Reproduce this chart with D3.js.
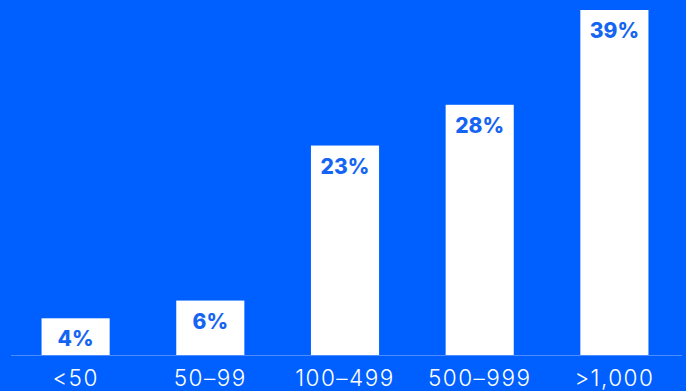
<!DOCTYPE html>
<html><head><meta charset="utf-8">
<script src="https://cdn.jsdelivr.net/npm/d3@7"></script>
<style>
html,body{margin:0;padding:0;background:#0060FF;overflow:hidden;}
svg{display:block;}
</style></head>
<body>
<svg id="c" width="686" height="391"></svg>
<script>
const categories = ["<50", "50\u201399", "100\u2013499", "500\u2013999", ">1,000"];
const values = [4.2, 6.2, 23.7, 28.3, 39];
const valueLabels = ["4%", "6%", "23%", "28%", "39%"];

const W = 686, H = 391;
const svg = d3.select("#c");
svg.append("rect").attr("width", W).attr("height", H).attr("fill", "#0060FF");

const x = d3.scaleBand().domain(categories).range([9, 681]).paddingInner(0.4944).paddingOuter(0.2417);
const y = d3.scaleLinear().domain([0, 39]).range([355.5, 10]);

svg.selectAll("rect.bar").data(values).enter().append("rect")
  .attr("class", "bar")
  .attr("x", (d, i) => x(categories[i]))
  .attr("y", d => y(d))
  .attr("width", x.bandwidth())
  .attr("height", d => y(0) - y(d))
  .attr("fill", "#ffffff");

svg.selectAll("text.val").data(values).enter().append("text")
  .attr("class", "val")
  .attr("x", (d, i) => x(categories[i]) + x.bandwidth() / 2)
  .attr("y", d => y(d) + 28)
  .attr("text-anchor", "middle")
  .attr("font-family", "Inter, sans-serif")
  .attr("font-weight", 800)
  .attr("font-size", 21)
  .attr("fill", "#1665F2")
  .text((d, i) => valueLabels[i]);

const axis = d3.axisBottom(x).tickSize(0).tickPadding(0);
const g = svg.append("g").attr("transform", `translate(0,${y(0)})`).call(axis);
g.select(".domain").attr("stroke", "#4D8DFF").attr("stroke-width", 1).attr("d", "M11,0H682");
g.selectAll("text")
  .attr("dy", 0)
  .attr("y", 30.5)
  .attr("font-family", "Inter, sans-serif")
  .attr("font-weight", 300)
  .attr("font-size", 22.5)
  .attr("letter-spacing", 1.5)
  .attr("fill", "#ffffff");
</script>
</body></html>
